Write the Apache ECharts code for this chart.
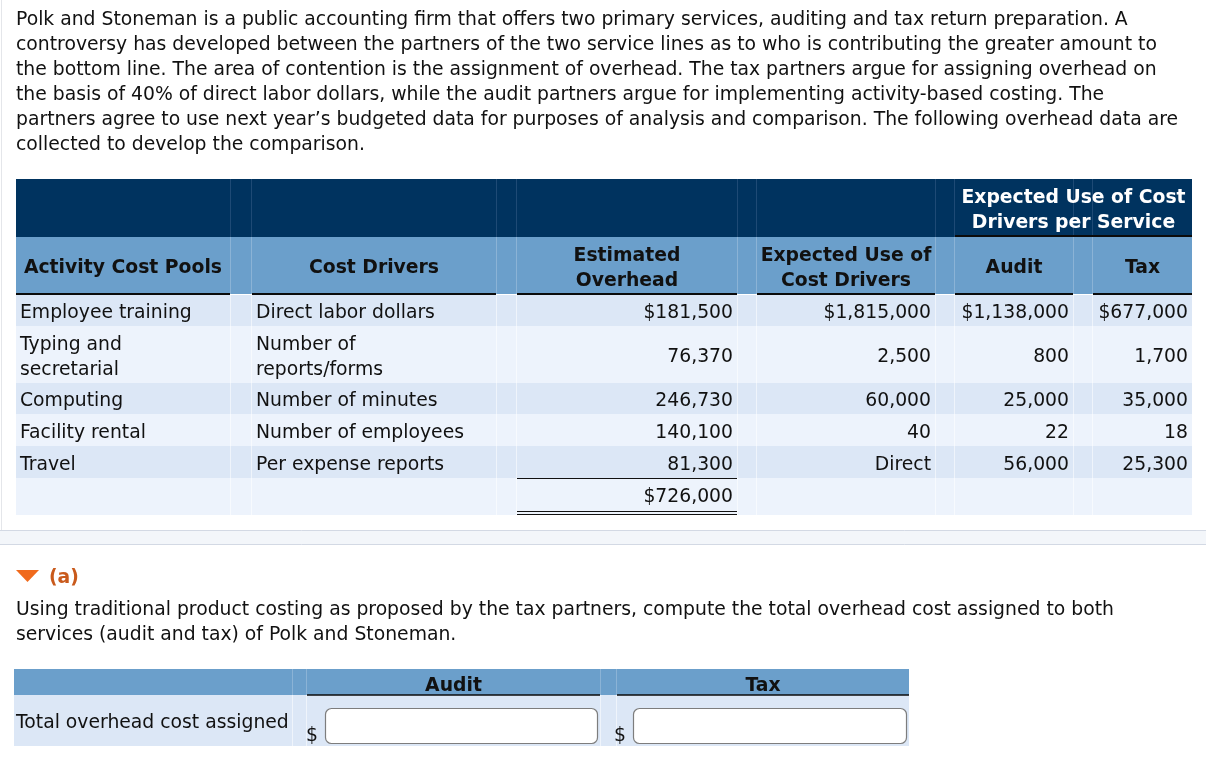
<!DOCTYPE html>
<html><head><meta charset="utf-8">
<script src="https://cdn.jsdelivr.net/npm/echarts@6/dist/echarts.min.js"></script>
<style>html,body{margin:0;padding:0;background:#fff}#c{width:1206px;height:757px}</style>
</head><body><div id="c"></div>
<script>
// ---------------- DATA ----------------
const introLines = [
  "Polk and Stoneman is a public accounting firm that offers two primary services, auditing and tax return preparation. A",
  "controversy has developed between the partners of the two service lines as to who is contributing the greater amount to",
  "the bottom line. The area of contention is the assignment of overhead. The tax partners argue for assigning overhead on",
  "the basis of 40% of direct labor dollars, while the audit partners argue for implementing activity-based costing. The",
  "partners agree to use next year\u2019s budgeted data for purposes of analysis and comparison. The following overhead data are",
  "collected to develop the comparison."
];
const spanHeader = "Expected Use of Cost\nDrivers per Service";
const colHeaders = ["Activity Cost Pools", "Cost Drivers", "Estimated\nOverhead", "Expected Use of\nCost Drivers", "Audit", "Tax"];
const costPools = ["Employee training", "Typing and\nsecretarial", "Computing", "Facility rental", "Travel"];
const costDrivers = ["Direct labor dollars", "Number of\nreports/forms", "Number of minutes", "Number of employees", "Per expense reports"];
const estimatedOverhead = [181500, 76370, 246730, 140100, 81300];
const expectedUse = [1815000, 2500, 60000, 40, "Direct"];
const auditUse = [1138000, 800, 25000, 22, 56000];
const taxUse = [677000, 1700, 35000, 18, 25300];
const totalOverhead = 726000;
const partLabel = "(a)";
const questionLines = [
  "Using traditional product costing as proposed by the tax partners, compute the total overhead cost assigned to both",
  "services (audit and tax) of Polk and Stoneman."
];
const answerHeaders = ["Audit", "Tax"];
const answerRowLabel = "Total overhead cost assigned";

// ---------------- LAYOUT / STYLE ----------------
const FONT = "'DejaVu Sans', Verdana, sans-serif";
const FS = 18.8;
const DY = 1; // baseline nudge
const NAVY = '#00335f', MID = '#6b9fcb', ROW_D = '#dce7f6', ROW_L = '#edf3fc', INK = '#111';
const cols = [[16, 230], [252, 496], [517, 737], [757, 935], [955, 1073], [1093, 1192]];
const T_LEFT = 16, T_RIGHT = 1192;
const darkTop = 179, darkBot = 237, midBot = 294;
const rowH = [31, 57, 31, 32, 32, 37];

function fmt(v, dollar) {
  if (typeof v === 'string') return v;
  return (dollar ? '$' : '') + v.toLocaleString('en-US');
}
const g = [];
function text(x, y, s, o) {
  o = o || {};
  g.push({ type: 'text', x: x, y: y + DY, silent: true, style: {
    text: s, fontFamily: FONT, fontSize: o.fs || FS, fontWeight: o.bold ? 'bold' : 'normal',
    fill: o.fill || INK, align: o.align || 'left', verticalAlign: 'middle', lineHeight: 25 } });
}
function rect(x, y, w, h, fill, extra) {
  g.push(Object.assign({ type: 'rect', silent: true, shape: { x: x, y: y, width: w, height: h }, style: { fill: fill } }, extra || {}));
}
function line(x1, y1, x2, y2, stroke, lw) {
  g.push({ type: 'line', silent: true, shape: { x1: x1, y1: y1, x2: x2, y2: y2 }, style: { stroke: stroke, lineWidth: lw || 1 } });
}

// left page border
line(1.5, 0, 1.5, 530, '#e4e6ea', 1);

// intro paragraph
introLines.forEach((s, i) => text(16, 19 + i * 25, s));

// header rows
rect(T_LEFT, darkTop, T_RIGHT - T_LEFT, darkBot - darkTop, NAVY);
rect(T_LEFT, darkBot, T_RIGHT - T_LEFT, midBot - darkBot, MID);
// data rows
let y = midBot + 1;
const rowTops = [];
rowH.forEach((h, i) => { rowTops.push(y); rect(T_LEFT, y, T_RIGHT - T_LEFT, h, i % 2 ? ROW_L : ROW_D); y += h; });
const tableBot = y;
// gap separators
for (let i = 0; i < cols.length - 1; i++) {
  [cols[i][1] + 0.5, cols[i + 1][0] - 0.5].forEach(x => {
    line(x, darkTop, x, darkBot, '#1e4a75', 1);
    line(x, darkBot, x, midBot, '#8bb3d6', 1);
    line(x, midBot + 1, x, tableBot, 'rgba(255,255,255,0.55)', 1);
  });
}
// span header
text((cols[4][0] + cols[5][1]) / 2, (darkTop + darkBot) / 2 + 2, spanHeader, { bold: true, fill: '#fff', align: 'center' });
line(cols[4][0], darkBot - 1, cols[5][1], darkBot - 1, '#0b0b0b', 2);
// column headers
colHeaders.forEach((s, i) => {
  text((cols[i][0] + cols[i][1]) / 2, (darkBot + midBot) / 2 + 2, s, { bold: true, align: 'center' });
  line(cols[i][0], midBot, cols[i][1], midBot, '#0b0b0b', 2);
});
// body
const numCols = [[estimatedOverhead, 2], [expectedUse, 3], [auditUse, 4], [taxUse, 5]];
costPools.forEach((s, r) => {
  const cy = rowTops[r] + rowH[r] / 2 + 2;
  text(cols[0][0] + 4, cy, s);
  text(cols[1][0] + 4, cy, costDrivers[r]);
  numCols.forEach(([arr, c]) => text(cols[c][1] - 4, cy, fmt(arr[r], r === 0), { align: 'right' }));
});
// total
const tr = rowTops[5];
line(cols[2][0], tr + 0.5, cols[2][1], tr + 0.5, '#111', 1);
text(cols[2][1] - 4, tr + 18, fmt(totalOverhead, true), { align: 'right' });
line(cols[2][0], tr + 33.5, cols[2][1], tr + 33.5, '#111', 1);
line(cols[2][0], tr + 36.5, cols[2][1], tr + 36.5, '#111', 1);

// separator band
rect(0, 530, 1206, 15, '#f3f6fa');
line(0, 530.5, 1206, 530.5, '#d3d9e4', 1);
line(0, 544.5, 1206, 544.5, '#d3d9e4', 1);

// part (a)
g.push({ type: 'polygon', silent: true, shape: { points: [[16, 570], [39, 570], [27.5, 582]] }, style: { fill: '#f06a1c' } });
text(49, 577, partLabel, { bold: true, fill: '#c95a1c' });
questionLines.forEach((s, i) => text(16, 609 + i * 25, s));

// answer table
const aCols = [[14, 292], [307, 600], [617, 909]];
const aTop = 669, aMid = 695, aBot = 746;
rect(14, aTop, 909 - 14, aMid - aTop, MID);
rect(14, aMid, 909 - 14, aBot - aMid, ROW_D);
[292.5, 306.5, 600.5, 616.5].forEach(x => { line(x, aTop, x, aMid, '#8bb3d6', 1); line(x, aMid, x, aBot, 'rgba(255,255,255,0.55)', 1); });
answerHeaders.forEach((s, i) => {
  const c = aCols[i + 1];
  text((c[0] + c[1]) / 2, (aTop + aMid) / 2 + 3, s, { bold: true, align: 'center' });
  line(c[0], aMid, c[1], aMid, '#0b0b0b', 1.5);
});
text(16, 722, answerRowLabel);
[[306, 325, 597], [614, 633, 906]].forEach(([dx, bx, bx2]) => {
  text(dx, 735, '$');
  rect(bx + 0.5, 708.5, bx2 - bx, 35, '#fff', { shape: { x: bx + 0.5, y: 708.5, width: bx2 - bx, height: 35, r: 6 }, style: { fill: '#fff', stroke: '#7d7d7d', lineWidth: 1.2 } });
});

const chart = echarts.init(document.getElementById('c'), null, { renderer: 'canvas' });
chart.setOption({ animation: false, backgroundColor: '#fff', graphic: { elements: g } });
</script>
</body></html>
